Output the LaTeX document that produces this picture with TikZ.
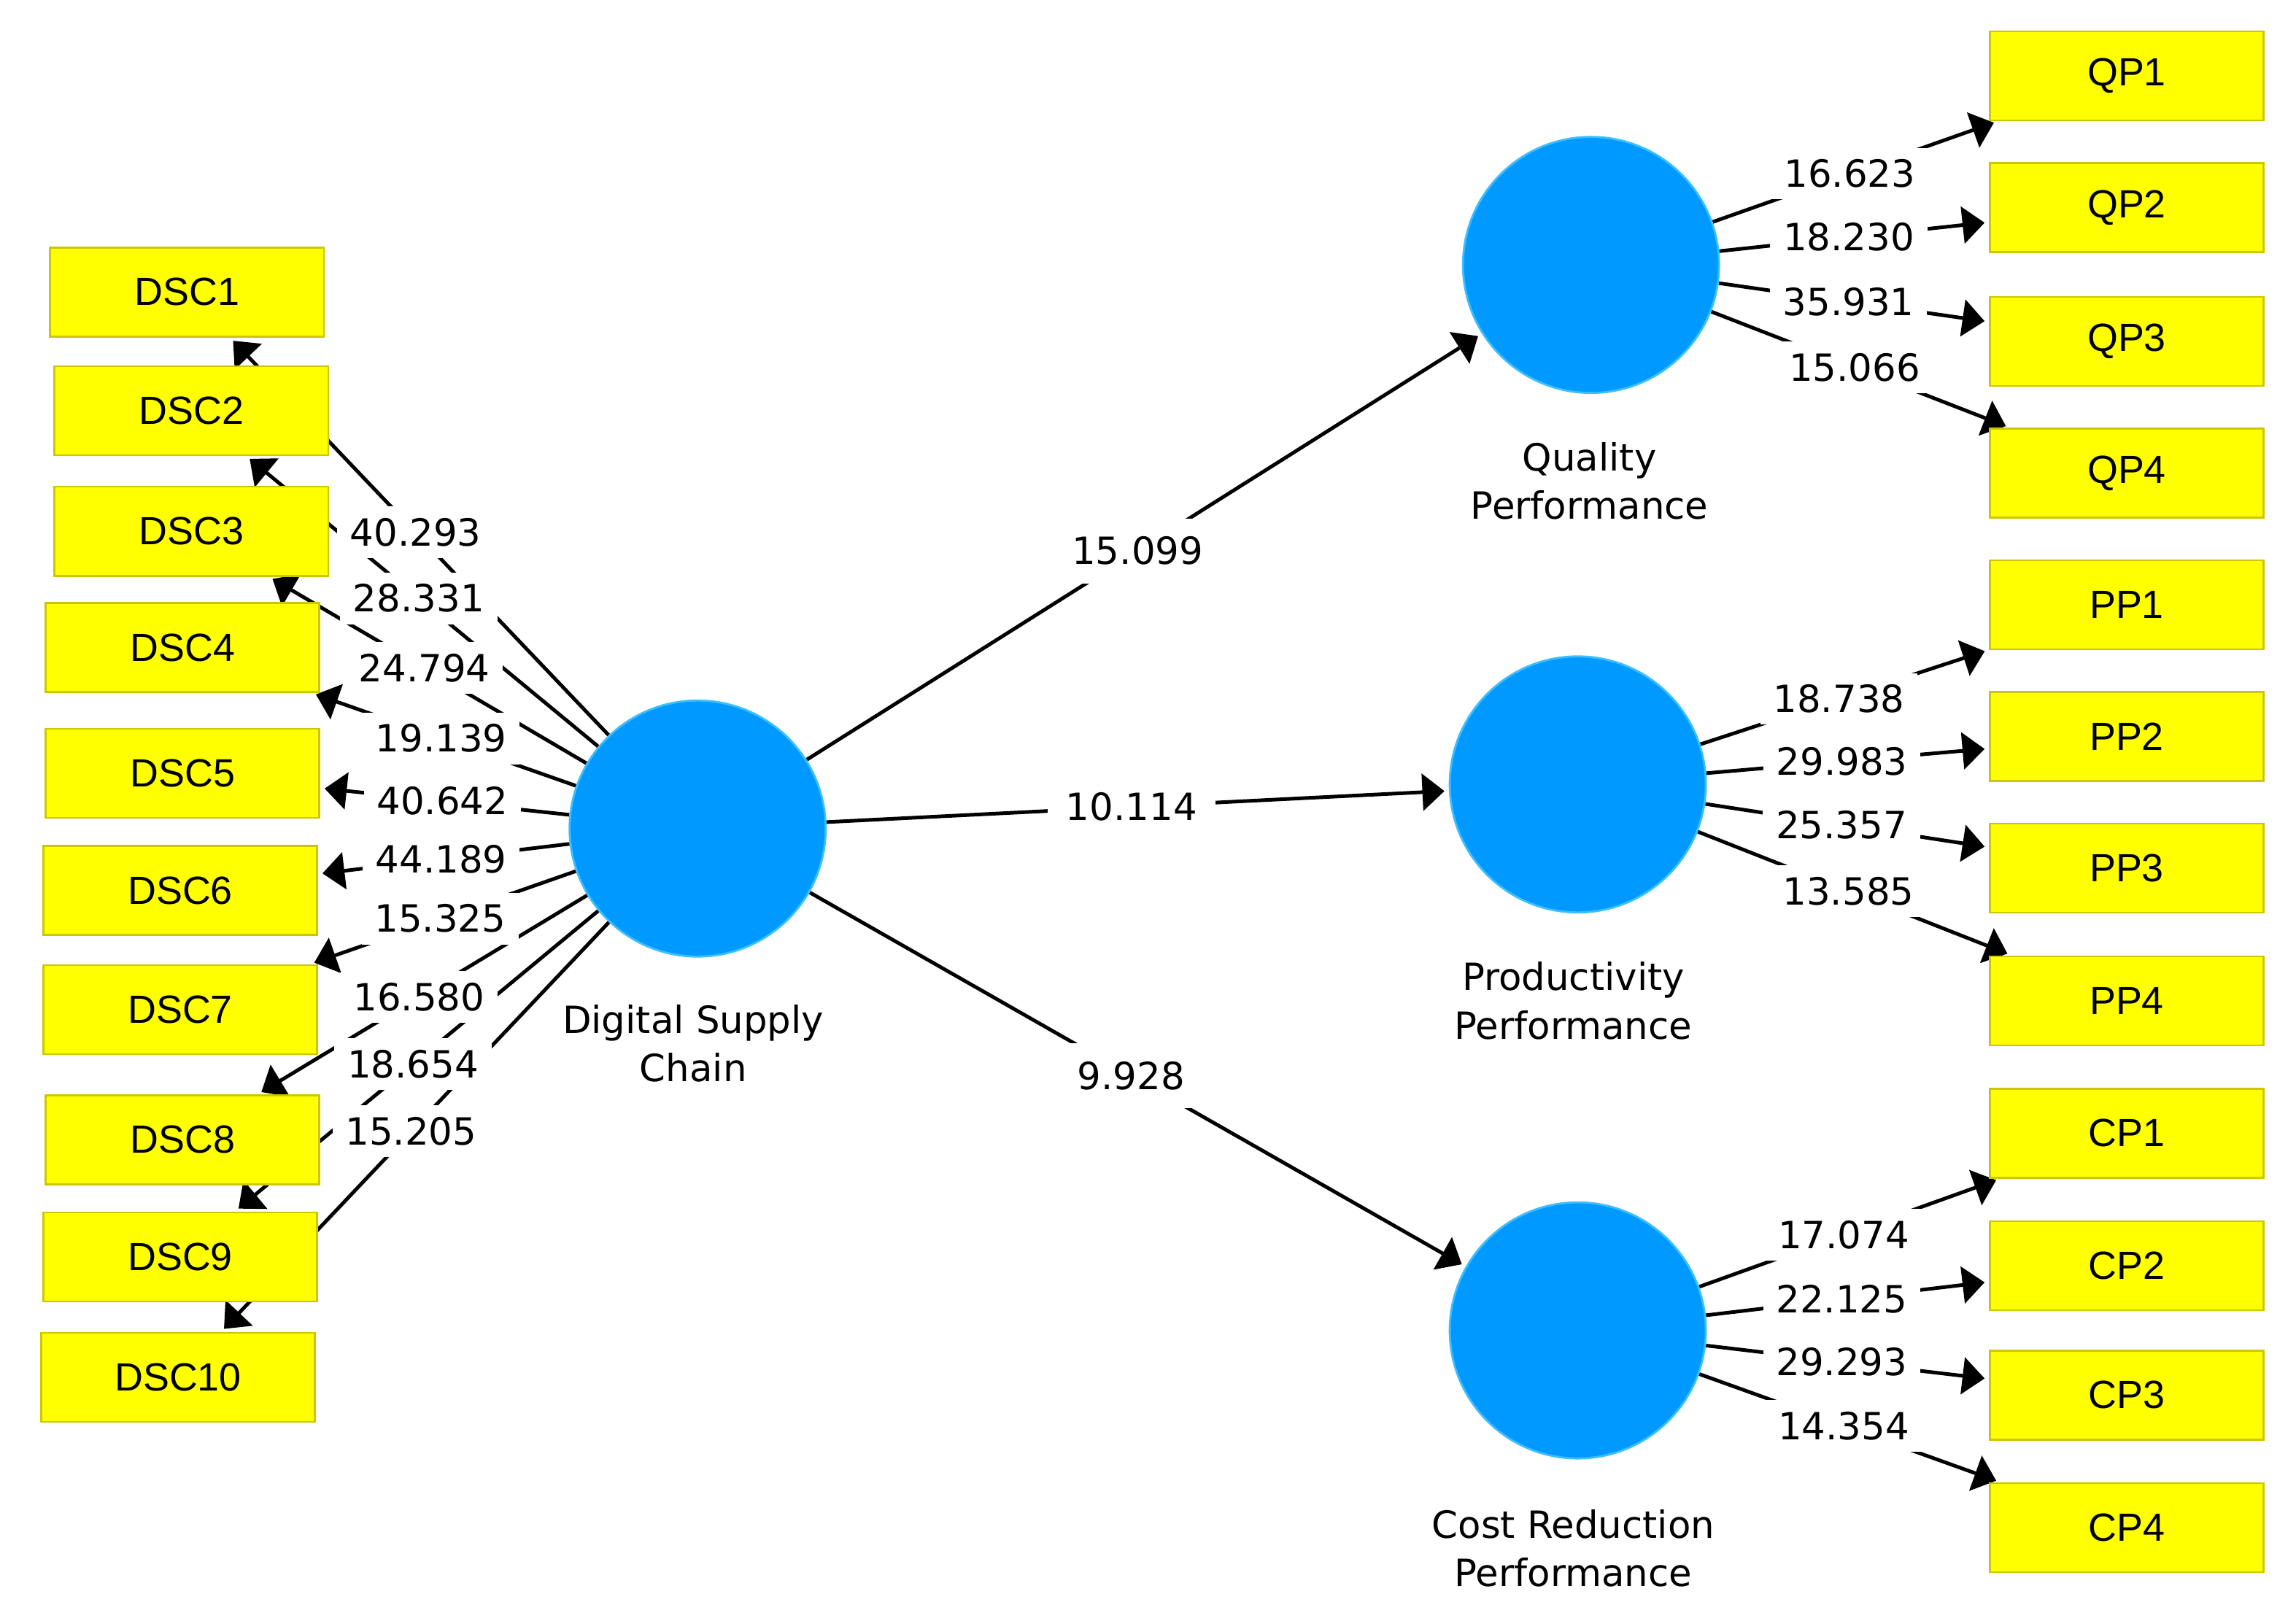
\documentclass[tikz,border=0pt]{standalone}
\usepackage{fontspec}
\setmainfont{DejaVu Sans}
\newfontfamily\boxfont{Liberation Sans}
\usepackage{tikz}
\usetikzlibrary{arrows.meta,backgrounds}

\definecolor{lvblue}{RGB}{0,153,255}
\definecolor{lvedge}{RGB}{60,190,255}
\definecolor{mvyellow}{RGB}{255,255,0}
\definecolor{mvedge}{RGB}{205,198,0}

\tikzset{
  latent/.style={circle, fill=lvblue, draw=lvedge, line width=0.8pt, minimum size=3.48cm, inner sep=0pt},
  manifest/.style={rectangle, fill=mvyellow, draw=mvedge, line width=0.7pt, minimum width=3.72cm, minimum height=1.21cm, font=\boxfont\fontsize{15.2}{17}\selectfont},
  link/.style={line width=1.4pt, -{Triangle[length=0.3cm,width=0.5cm]}, shorten >=0.06cm},
  coef/.style={fill=white, inner xsep=5pt, inner ysep=4.5pt, font=\fontsize{14.5}{17}\selectfont},
  pathcoef/.style={coef, inner sep=7pt},
  lvname/.style={align=center, font=\fontsize{14.5}{18.7}\selectfont}
}

\begin{document}
\begin{tikzpicture}[x=0.02cm,y=-0.02cm]
  \useasboundingbox (0,0) rectangle (1560,1101.4);
  % latent variables
  \node[name=dsc, latent] at (474,563) {};
  \node[name=qp, latent] at (1081,180) {};
  \node[name=pp, latent] at (1072,533) {};
  \node[name=cp, latent] at (1072,904) {};
  \node[name=dsclab, lvname] at (471,709) {Digital Supply\\Chain};
  \node[name=qplab, lvname] at (1080,327) {Quality\\Performance};
  \node[name=pplab, lvname] at (1069,680) {Productivity\\Performance};
  \node[name=cplab, lvname] at (1069,1052) {Cost Reduction\\Performance};
  % indicators
  \node[name=dsc1, manifest] at (127,198.5) {DSC1};
  \node[name=dsc2, manifest] at (130,279) {DSC2};
  \node[name=dsc3, manifest] at (130,361) {DSC3};
  \node[name=dsc4, manifest] at (124,440) {DSC4};
  \node[name=dsc5, manifest] at (124,525.5) {DSC5};
  \node[name=dsc6, manifest] at (122.5,605) {DSC6};
  \node[name=dsc7, manifest] at (122.5,686) {DSC7};
  \node[name=dsc8, manifest] at (124,774.5) {DSC8};
  \node[name=dsc9, manifest] at (122.5,854) {DSC9};
  \node[name=dsc10, manifest] at (121,936) {DSC10};
  \node[name=qp1, manifest] at (1445,51.5) {QP1};
  \node[name=qp2, manifest] at (1445,141) {QP2};
  \node[name=qp3, manifest] at (1445,232) {QP3};
  \node[name=qp4, manifest] at (1445,321.5) {QP4};
  \node[name=pp1, manifest] at (1445,411) {PP1};
  \node[name=pp2, manifest] at (1445,500.5) {PP2};
  \node[name=pp3, manifest] at (1445,590) {PP3};
  \node[name=pp4, manifest] at (1445,680) {PP4};
  \node[name=cp1, manifest] at (1445,770) {CP1};
  \node[name=cp2, manifest] at (1445,860) {CP2};
  \node[name=cp3, manifest] at (1445,948) {CP3};
  \node[name=cp4, manifest] at (1445,1038) {CP4};
  % arrows behind the boxes
  \begin{pgfonlayer}{background}
    \foreach \t in {qp,pp,cp}
      \draw[link] (dsc) -- (\t);
    \foreach \i in {1,...,10}
      \draw[link] (dsc) -- (dsc\i);
    \foreach \i in {1,...,4}{
      \draw[link] (qp) -- (qp\i);
      \draw[link] (pp) -- (pp\i);
      \draw[link] (cp) -- (cp\i);
    }
  \end{pgfonlayer}
  % t values
  \foreach \t/\v in {qp/15.099, pp/10.114, cp/9.928}
    \path (dsc) -- (\t) node[name=val-\t, pathcoef, pos=0.49] {\v};
  \foreach \t/\v in {dsc1/40.293, dsc2/28.331, dsc3/24.794, dsc4/19.139, dsc5/40.642,
      dsc6/44.189, dsc7/15.325, dsc8/16.580, dsc9/18.654, dsc10/15.205}
    \path (dsc) -- (\t) node[name=val-\t, coef, pos=0.51] {\v};
  \foreach \s/\t/\v in {qp/qp1/16.623, qp/qp2/18.230, qp/qp3/35.931, qp/qp4/15.066,
      pp/pp1/18.738, pp/pp2/29.983, pp/pp3/25.357, pp/pp4/13.585,
      cp/cp1/17.074, cp/cp2/22.125, cp/cp3/29.293, cp/cp4/14.354}
    \path (\s) -- (\t) node[name=val-\t, coef, pos=0.48] {\v};
\end{tikzpicture}
\end{document}
